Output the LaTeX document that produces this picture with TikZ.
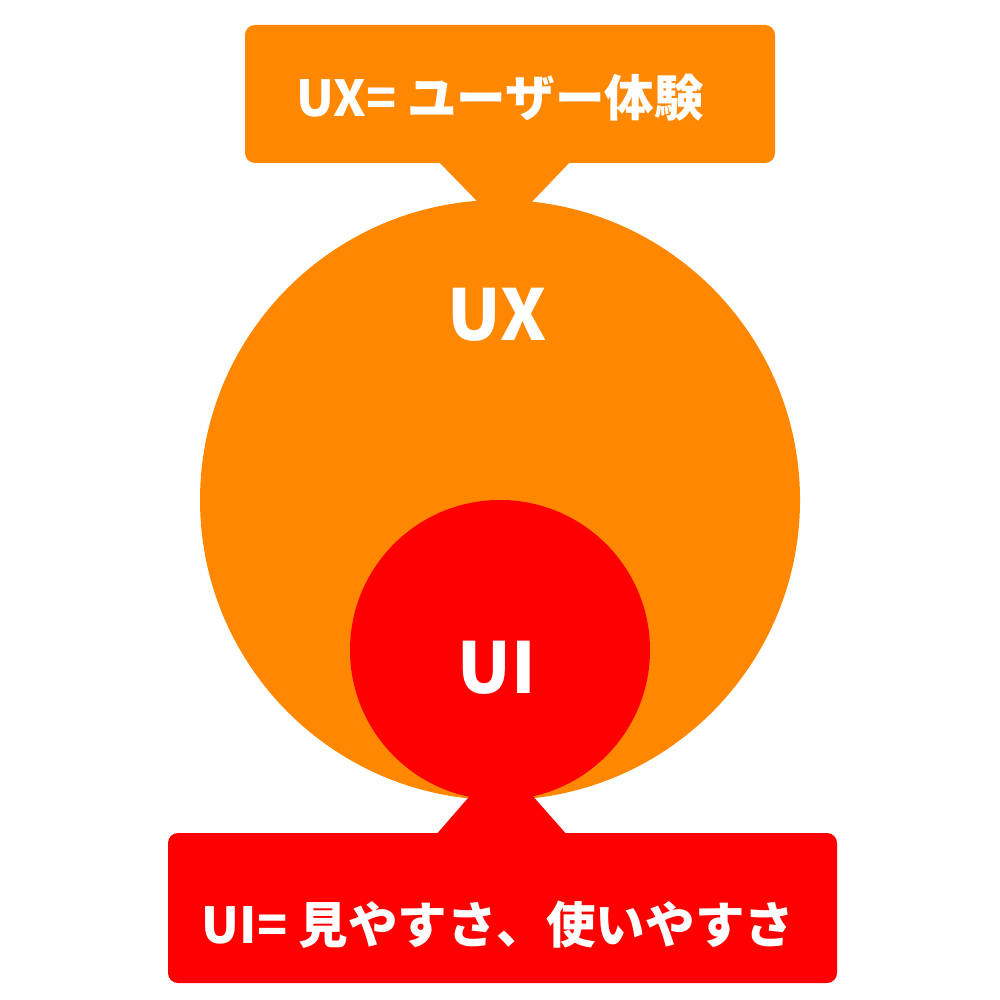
\documentclass[tikz,border=0pt]{standalone}
\usepackage{fontspec}
\setmainfont{Noto Sans CJK JP}
\definecolor{uxorange}{RGB}{255,136,0}
\definecolor{uired}{RGB}{255,0,0}
\tikzset{
  bigtext/.style={text=white, inner sep=0pt, font=\bfseries\fontsize{20pt}{24pt}\selectfont},
  boxtext/.style={text=white, inner sep=0pt, font=\bfseries\fontsize{14.1pt}{17pt}\selectfont}
}
\begin{document}
\begin{tikzpicture}
\useasboundingbox (0,0) rectangle (10,-10);
% top box pointer
\fill[uxorange] (4.37,-1.60) -- (5.72,-1.60) -- (5.05,-2.30) -- cycle;
\fill[uxorange, rounded corners=0.1cm] (2.45,-0.25) rectangle (7.75,-1.63);
\node[boxtext] (uxdef) at (5.0,-0.98) {UX= ユーザー体験};
% circles
\node[circle, fill=uxorange, minimum size=6cm, inner sep=0pt] (ux) at (5.0,-5.0) {};
\node[circle, fill=uired, minimum size=3cm, inner sep=0pt] (ui) at (5.0,-6.5) {};
\node[bigtext] (uxlabel) at (4.97,-3.15) {UX};
\node[bigtext] (uilabel) at (4.97,-6.68) {UI};
% bottom box pointer
\fill[uired] (4.35,-8.36) -- (5.68,-8.36) -- (5.01,-7.60) -- cycle;
\fill[uired, rounded corners=0.1cm] (1.68,-8.33) rectangle (8.37,-9.83);
\node[boxtext] (uidef) at (4.98,-9.25) {UI= 見やすさ、使いやすさ};
\end{tikzpicture}
\end{document}
